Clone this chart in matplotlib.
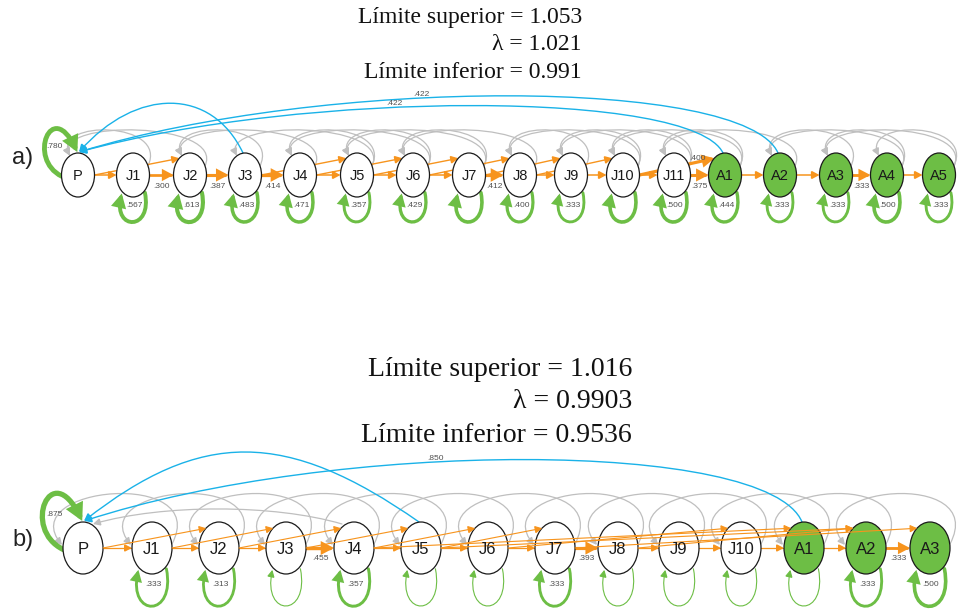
import matplotlib
matplotlib.use('Agg')
import matplotlib.pyplot as plt
from matplotlib.patches import Ellipse, FancyArrowPatch
from matplotlib.path import Path

ORANGE = '#f7941d'
GREEN = '#6dbe45'
BLUE = '#1ab2e8'
GRAY = '#bfbfbf'
TXT = '#505050'

# ---- panel a: stages, stasis and transitions ----
nodes_a = ['P', 'J1', 'J2', 'J3', 'J4', 'J5', 'J6', 'J7', 'J8', 'J9', 'J10', 'J11',
           'A1', 'A2', 'A3', 'A4', 'A5']
stasis_a = [0.780, 0.567, 0.613, 0.483, 0.471, 0.357, 0.429, None, 0.400, 0.333,
            None, 0.500, 0.444, 0.333, 0.333, 0.500, 0.333]
growth_a = [('P', 'J1', None), ('J1', 'J2', 0.300), ('J2', 'J3', 0.387), ('J3', 'J4', 0.414),
            ('J4', 'J5', None), ('J5', 'J6', None), ('J6', 'J7', None), ('J7', 'J8', 0.412),
            ('J8', 'J9', None), ('J9', 'J10', None), ('J10', 'J11', None), ('J11', 'A1', 0.375),
            ('A1', 'A2', None), ('A2', 'A3', None), ('A3', 'A4', 0.333), ('A4', 'A5', None)]
jumps_a = [('P', 'J2', None), ('J3', 'J5', None), ('J4', 'J6', None), ('J5', 'J7', None),
           ('J6', 'J8', None), ('J7', 'J9', None), ('J8', 'J10', None), ('J10', 'A1', 0.400)]
retro_a = [('J1', 'P'), ('J2', 'P'), ('J3', 'J2'), ('J4', 'J2'), ('J5', 'J3'), ('J5', 'J4'),
           ('J6', 'J4'), ('J6', 'J5'), ('J7', 'J5'), ('J7', 'J6'), ('J8', 'J6'), ('J9', 'J8'),
           ('J10', 'J8'), ('J10', 'J9'), ('J11', 'J9'), ('J11', 'J10'), ('A1', 'J10'),
           ('A1', 'J11'), ('A2', 'J11'), ('A3', 'A2'), ('A4', 'A2'), ('A4', 'A3'),
           ('A5', 'A3'), ('A5', 'A4')]
blue_a = [('J3', 'P', None), ('A1', 'P', 0.422), ('A2', 'P', 0.422)]
bounds_a = ('1.053', '1.021', '0.991')

# ---- panel b ----
nodes_b = ['P', 'J1', 'J2', 'J3', 'J4', 'J5', 'J6', 'J7', 'J8', 'J9', 'J10', 'A1', 'A2', 'A3']
stasis_b = [0.875, 0.333, 0.313, None, 0.357, None, None, 0.333, None, None, None, None,
            0.333, 0.500]
growth_b = [('P', 'J1', None), ('J1', 'J2', None), ('J2', 'J3', None), ('J3', 'J4', 0.455),
            ('J4', 'J5', None), ('J5', 'J6', None), ('J6', 'J7', None), ('J7', 'J8', 0.393),
            ('J8', 'J9', None), ('J9', 'J10', None), ('J10', 'A1', None), ('A1', 'A2', None),
            ('A2', 'A3', 0.333)]
jumps_b = [('P', 'J2', None), ('J1', 'J3', None), ('J2', 'J4', None), ('J3', 'J5', None),
           ('J4', 'J6', None), ('J5', 'J7', None), ('J6', 'J10', None), ('J4', 'A1', None),
           ('J5', 'A2', None), ('J7', 'A3', None), ('J8', 'A2', None)]
retro_b = [('J2', 'J1'), ('J3', 'J2'), ('J4', 'J3'), ('J5', 'J4'), ('J6', 'J5'), ('J7', 'J6'),
           ('J8', 'J7'), ('J9', 'J8'), ('J10', 'J9'), ('A1', 'J10'), ('A2', 'A1'),
           ('A3', 'A2'), ('J1', 'P')]
long_retro_b = [('J4', 'P')]
blue_b = [('J5', 'P', None), ('A1', 'P', 0.850)]
bounds_b = ('1.016', '0.9903', '0.9536')

# drawing layout (pixel space)
lay_a = dict(x=[78, 133, 190, 245, 300, 357, 413, 469, 520, 571, 623, 674, 725, 780, 836, 887, 939],
             y=175, w=33, h=44, fs=10.5, loop=34, edge_lw=1.1, loop_lw=2.6,
             rise=[66, 63, 76], lean=[0.2, 0.05, 0.05], tag='a)', tag_y=158,
             title_x=582, title_y=[17, 45, 73], title_fs=17)
lay_b = dict(x=[83, 152, 219, 286, 354, 421, 488, 555, 618, 679, 741, 804, 866, 930],
             y=548, w=40, h=52, fs=12, loop=44, edge_lw=0.9, loop_lw=0.8,
             rise=[93, 83], lean=[0.4, 0.05], tag='b)', tag_y=540,
             title_x=632, title_y=[369, 402, 435], title_fs=20)


def fmt(v):
    return f'{v:.3f}'.lstrip('0')


def width(v, default):
    return default if v is None else 1.0 + 3.2 * v


def arrow(ax, verts, color, lw, z):
    codes = [Path.MOVETO] + ([Path.CURVE4] * 3 if len(verts) == 4 else [Path.LINETO])
    style = f'-|>,head_length={3.5 + 0.9 * lw:.1f},head_width={1.8 + 0.5 * lw:.1f}'
    p = FancyArrowPatch(path=Path(verts, codes), arrowstyle=style, color=color, lw=lw,
                        mutation_scale=1, zorder=z, joinstyle='miter')
    ax.add_patch(p)


def bez(pts, t):
    (x0, y0), (x1, y1), (x2, y2), (x3, y3) = pts
    a, b, c, d = (1 - t) ** 3, 3 * (1 - t) ** 2 * t, 3 * (1 - t) * t ** 2, t ** 3
    return a * x0 + b * x1 + c * x2 + d * x3, a * y0 + b * y1 + c * y2 + d * y3


def small(ax, x, y, s):
    ax.text(x, y, s, fontsize=6, color=TXT, ha='center', va='center', zorder=8,
            family='Liberation Sans')


def draw_panel(ax, nodes, stasis, growth, jumps, retro, blue, bounds, lay, long_retro=()):
    X = dict(zip(nodes, lay['x']))
    y, w, h = lay['y'], lay['w'], lay['h']

    # retrogression arcs (gray)
    for s, t in retro:
        xs, xt = X[s], X[t]
        if lay is lay_a:
            pts = [(xs + 0.45 * w, y - 0.2 * h), (xs + w / 2 + 20, y - 54),
                   (xt - 26, y - 56), (xt - 0.25 * w, y - 0.44 * h)]
        else:
            pts = [(xs + w / 2, y - 4), (xs + w / 2 + 40, y - 80),
                   (xt - w / 2 - 50, y - 62), (xt - w / 2 - 1, y - 3)]
        arrow(ax, pts, GRAY, 0.9, 2)
    for s, t in long_retro:
        xs, xt = X[s], X[t]
        pts = [(xs - 12, y - 24), (xs - 80, y - 44), (xt + 80, y - 44), (xt + 10, y - 24)]
        arrow(ax, pts, GRAY, 0.9, 2)

    # growth to next stage
    for s, t, v in growth:
        lw = width(v, lay['edge_lw'])
        arrow(ax, [(X[s] + w / 2, y), (X[t] - w / 2, y)], ORANGE, lw, 3)
        if v is not None:
            small(ax, (X[s] + X[t]) / 2, y + 11, fmt(v))

    # growth skipping stages
    for s, t, v in jumps:
        lw = width(v, lay['edge_lw'] * 0.9)
        z = 3 if lay is lay_a else 6
        arrow(ax, [(X[s] + w / 2, y), (X[t] - 0.32 * w, y - 0.38 * h)], ORANGE, lw, z)
        if v is not None:
            small(ax, X[t] - 28, y - 17, fmt(v))

    # fecundity arcs back to P (blue)
    for (s, t, v), rise, lean in zip(blue, lay['rise'], lay['lean']):
        xs, xt = X[s], X[t]
        dx = xs - xt
        top = y - h / 2
        pts = [(xs - 2, top), (xs - lean * dx, top - rise), (xt + 0.35 * dx, top - rise),
               (xt + 1, top - 1)]
        arrow(ax, pts, BLUE, 1.0, 4)
        if v is not None:
            lx, ly = bez(pts, 0.6)
            small(ax, lx, ly - 4, fmt(v))

    # stasis loops (green)
    for i, (n, v) in enumerate(zip(nodes, stasis)):
        x = X[n]
        lw = width(v, lay['loop_lw'])
        if i == 0:
            pts = [(x - 0.49 * w, y + 0.03 * h), (x - 1.55 * w, y - 0.36 * h),
                   (x - 0.8 * w, y - 1.75 * h), (x - 0.02 * w, y - 0.52 * h)]
            lab = (x - 0.72 * w, y - 0.64 * h)
        else:
            c = lay['loop']
            pts = [(x + 0.36 * w, y + 0.4 * h), (x + 0.6 * w, y + h / 2 + c),
                   (x - 0.6 * w, y + h / 2 + c), (x - 0.34 * w, y + 0.42 * h)]
            lab = (x + 1, y + h / 2 + 0.25 * c)
        arrow(ax, pts, GREEN, lw, 4)
        if v is not None:
            small(ax, lab[0], lab[1], fmt(v))

    # stage nodes
    for n in nodes:
        adult = n.startswith('A')
        ax.add_patch(Ellipse((X[n], y), w, h, fc=GREEN if adult else 'white',
                             ec='#1a1a1a', lw=0.9, zorder=5))
        ax.text(X[n], y + 1, n, ha='center', va='center', fontsize=lay['fs'],
                color='#1a1a1a', zorder=7, family='Liberation Sans')

    ax.text(12, lay['tag_y'], lay['tag'], fontsize=17, ha='left', va='center',
            color='#222222', family='Liberation Sans')

    hi, lam, lo = bounds
    lines = [f'Límite superior = {hi}', f'λ = {lam}', f'Límite inferior = {lo}']
    for s, ty in zip(lines, lay['title_y']):
        ax.text(lay['title_x'], ty, s, ha='right', va='center', fontsize=lay['title_fs'],
                family='Liberation Serif', color='#111111')


fig = plt.figure(figsize=(9.75, 6.1), dpi=100)
ax = fig.add_axes([0, 0, 1, 1])
ax.set_xlim(0, 975)
ax.set_ylim(610, 0)
ax.axis('off')

draw_panel(ax, nodes_a, stasis_a, growth_a, jumps_a, retro_a, blue_a, bounds_a, lay_a)
draw_panel(ax, nodes_b, stasis_b, growth_b, jumps_b, retro_b, blue_b, bounds_b, lay_b,
           long_retro=long_retro_b)

fig.savefig('out.png', dpi=100)
